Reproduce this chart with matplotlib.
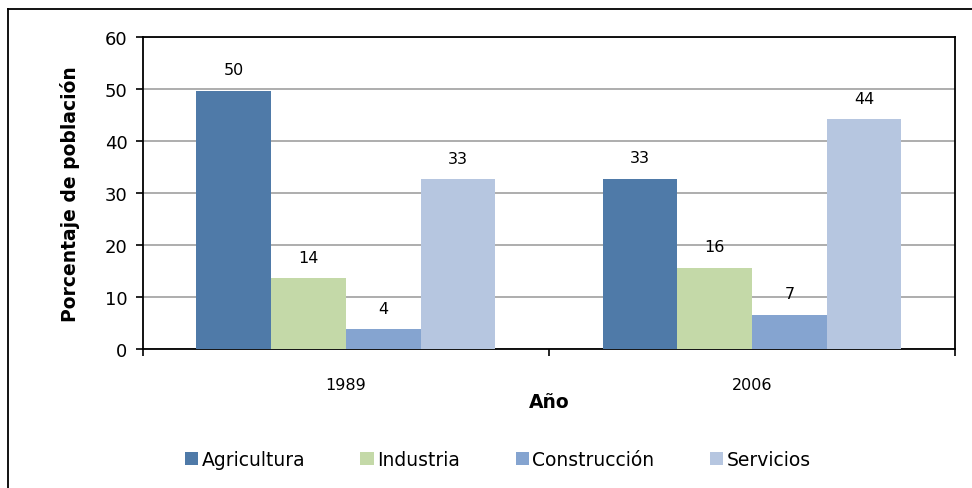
import numpy as np
import matplotlib
matplotlib.use("Agg")
import matplotlib.pyplot as plt
from matplotlib.lines import Line2D

# Data
years = ["1989", "2006"]
sectors = ["Agricultura", "Industria", "Construcción", "Servicios"]
agricultura = [49.7, 32.7]
industria = [13.6, 15.6]
construccion = [3.8, 6.6]
servicios = [32.6, 44.2]
series = [agricultura, industria, construccion, servicios]
colors = ["#4F7AA8", "#C4D9A8", "#85A4D0", "#B6C6E0"]

plt.rcParams['font.family'] = ['DejaVu Sans']

fig = plt.figure(figsize=(9.72, 4.89), dpi=100)
ax = fig.add_axes([0.147, 0.2843, 0.8355, 0.638])

x = np.arange(len(years))
w = 0.184
for i, (vals, name, c) in enumerate(zip(series, sectors, colors)):
    pos = x + (i - 1.5) * w
    bars = ax.bar(pos, vals, width=w, color=c, label=name, zorder=3)
    for b, v in zip(bars, vals):
        ax.text(b.get_x() + b.get_width() / 2, v + 2.6, f"{v:.0f}",
                ha="center", va="bottom", fontsize=11.5, zorder=4)

ax.set_xlim(-0.5, 1.5)
ax.set_ylim(0, 60)
ax.set_yticks(range(0, 61, 10))
ax.yaxis.grid(True, color="#A0A0A0", linewidth=1.2, zorder=0)
ax.tick_params(axis="y", direction="out", length=5, width=1.2, labelsize=13, pad=6)

ax.set_xticks([-0.5, 0.5, 1.5])
ax.set_xticklabels([])
ax.set_xticks(x, minor=True)
ax.set_xticklabels(years, minor=True, fontsize=11.5)
ax.tick_params(axis="x", which="major", direction="out", length=5, width=1.2)
ax.tick_params(axis="x", which="minor", length=0, pad=20)

for s in ax.spines.values():
    s.set_linewidth(1.3)
    s.set_color("black")

ax.set_ylabel("Porcentaje de población", fontsize=13.5, fontweight="bold", labelpad=18)
ax.set_xlabel("Año", fontsize=13.5, fontweight="bold", labelpad=0)

ax.legend(loc="center", bbox_to_anchor=(0.437, -0.355), ncol=4, frameon=False,
          fontsize=13.5, handlelength=0.7, handleheight=0.7, handletextpad=0.2,
          columnspacing=2.95)

# outer chart border (top and left edges)
fig.add_artist(Line2D([8 / 972, 1], [1 - 10 / 489, 1 - 10 / 489],
                      transform=fig.transFigure, color="black", linewidth=1.3))
fig.add_artist(Line2D([8 / 972, 8 / 972], [0, 1 - 10 / 489],
                      transform=fig.transFigure, color="black", linewidth=1.3))

fig.savefig("out.png", dpi=100)
